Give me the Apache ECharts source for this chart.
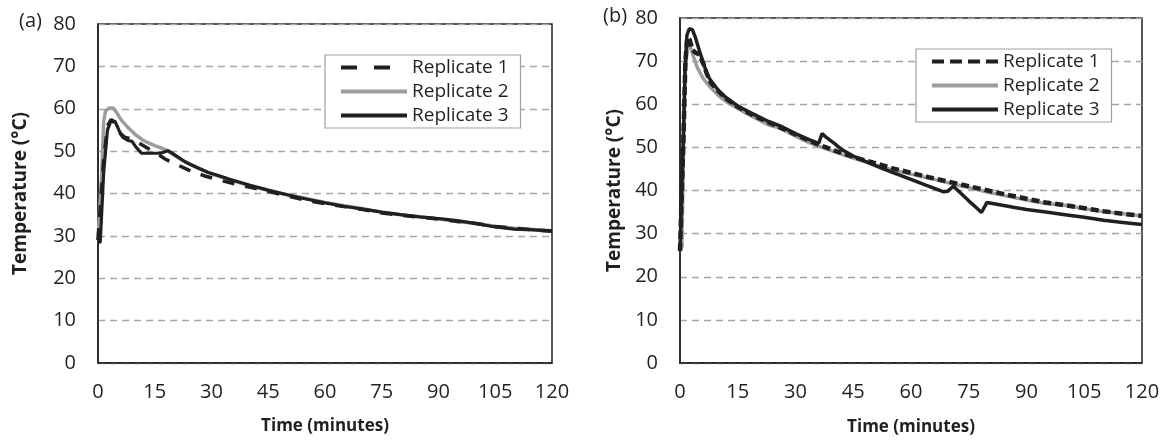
<!DOCTYPE html>
<html>
<head>
<meta charset="utf-8">
<script src="https://cdn.jsdelivr.net/npm/echarts@6/dist/echarts.min.js"></script>
<style>
html,body{margin:0;padding:0;background:#fff;}
#chart{width:1163px;height:441px;}
</style>
</head>
<body>
<div id="chart"></div>
<script>
// ---- Data ----
const seriesNames = ['Replicate 1', 'Replicate 2', 'Replicate 3'];
const xTicks = [0, 15, 30, 45, 60, 75, 90, 105, 120];
const yTicks = [0, 10, 20, 30, 40, 50, 60, 70, 80];

// Panel (a): [time (min), temperature (°C)]
const a_rep1 = [[0,29],[0.5,29],[1.5,48],[2.5,56],[3.5,57.5],[4.5,56.5],[5.5,54.5],[7,53.3],[9,52.8],[11,51.8],[13.5,50.5],[15,49.8],[18,48],[20,47.2],[24,45.5],[28,44.2],[32,43.2],[36,42.3],[40,41.5],[45,40.5],[50,39.4],[55,38.4],[60,37.6],[65,36.9],[70,36.2],[75,35.4],[80,34.9],[85,34.4],[90,34],[95,33.4],[100,32.9],[105,32.2],[110,31.8],[115,31.4],[120,31.1]];
const a_rep2 = [[0,29],[0.4,29],[1,45],[1.5,57],[2,59.5],[3,60.2],[4,60.2],[5,59],[6,57.5],[8,55.5],[10,53.8],[12,52.5],[15,51.3],[18,50.3],[21,48.5],[24,47],[27,45.8],[30,44.6],[35,43.2],[40,41.8],[45,40.7],[50,39.7],[55,38.8],[60,37.9],[65,37.1],[70,36.4],[75,35.6],[80,35],[85,34.5],[90,34],[95,33.4],[100,32.9],[105,32.3],[110,31.8],[115,31.5],[120,31.2]];
const a_rep3 = [[0,28.5],[0.6,28.5],[1.5,45],[2.5,55],[3.5,57.3],[4.5,57],[5.5,55],[6.5,53.3],[8,52.5],[9,52.3],[10,51],[11.5,49.5],[14,49.5],[16.5,49.5],[18.5,50.1],[20,49.3],[23,47.5],[26,46.2],[29,45],[32,44.2],[35,43.3],[40,42],[45,40.8],[50,39.7],[55,38.7],[60,37.8],[65,37],[70,36.3],[75,35.6],[80,35],[85,34.5],[90,34.1],[95,33.6],[100,32.9],[105,32.1],[110,31.6],[115,31.4],[120,31.2]];

// Panel (b)
const b_rep1 = [[0,26],[0.4,26],[0.9,52],[1.4,70],[1.9,75.5],[2.5,75],[3.3,72.5],[4,72],[5,71.5],[6,69.5],[7,67],[8,65],[10,63],[12,61.3],[15,59.4],[18,57.9],[20,57],[25,55],[30,53],[35,51],[40,49.3],[45,47.8],[50,46.5],[55,45.2],[60,44.1],[65,43],[70,42],[75,41],[80,40],[85,39],[90,38.1],[95,37.2],[100,36.6],[105,35.9],[110,35.2],[115,34.6],[120,34.1]];
const b_rep2 = [[0,26],[0.5,27],[0.9,50],[1.4,68],[2,74],[2.6,73.5],[3.5,71],[4.5,68.5],[6,66],[8,63.8],[10,62],[12,60.6],[15,59],[18,57.5],[20,56.6],[23,55.2],[26,54.5],[30,52.6],[33,51.3],[36,50.3],[40,49],[45,47.5],[50,46.1],[55,44.8],[60,43.8],[65,42.8],[70,41.7],[75,40.7],[80,39.6],[85,38.7],[90,37.8],[95,37],[100,36.6],[105,35.8],[110,35.1],[115,34.6],[120,34.1]];
const b_rep3 = [[0,26],[0.4,26],[0.8,50],[1.3,68],[1.8,76],[2.4,77.5],[3.2,77.3],[4,75.5],[5,72.5],[6,69.8],[7,67],[8,65.5],[10,63.2],[12,61.5],[15,59.6],[18,58.2],[20,57.3],[23,56],[26,55],[30,53.2],[33,52],[36,50.9],[36.9,53.2],[38,52.3],[40,51],[42,49.5],[45,48],[48,46.8],[52,45.3],[56,43.9],[60,42.6],[64,41.2],[68.5,39.7],[69.5,39.8],[71,41],[73,39.3],[75,37.6],[77,36],[78.3,34.9],[79.7,37.2],[83,36.7],[86.6,36.1],[90,35.6],[95,35],[100,34.4],[105,33.8],[110,33.1],[115,32.6],[120,32.1]];

// ---- Styles ----
const DARK = '#231f20';
const GRAY_LINE = '#9d9d9d';
const FONT = 'Open Sans';

const chart = echarts.init(document.getElementById('chart'), null, {renderer: 'canvas'});

function xAxisFor(gridIndex, nameGap) {
  return {
    type: 'value', gridIndex, min: 0, max: 120, interval: 15,
    name: 'Time (minutes)', nameLocation: 'middle', nameGap,
    nameTextStyle: {fontFamily: FONT, fontWeight: 'bold', fontSize: 17, color: DARK},
    axisLine: {show: true, onZero: false, lineStyle: {color: DARK, width: 1.5}},
    axisTick: {show: false},
    splitLine: {show: false},
    axisLabel: {fontFamily: FONT, fontSize: 20, color: DARK, margin: 19,
      formatter: v => xTicks.includes(v) ? String(v) : ''}
  };
}
function yAxisFor(gridIndex, nameGap) {
  return {
    type: 'value', gridIndex, min: 0, max: 80, interval: 10,
    name: 'Temperature (°C)', nameLocation: 'middle', nameGap, nameRotate: 90,
    nameTextStyle: {fontFamily: FONT, fontWeight: 'bold', fontSize: 19, color: DARK},
    axisLine: {show: true, lineStyle: {color: DARK, width: 1.5}},
    axisTick: {show: false},
    splitLine: {show: true, lineStyle: {color: '#a6a6a6', width: 1.3, type: [7, 5]}},
    axisLabel: {fontFamily: FONT, fontSize: 20, color: DARK, margin: 22,
      formatter: v => yTicks.includes(v) ? String(v) : ''}
  };
}

function line(name, data, idx, style) {
  return {
    name, type: 'line', data, xAxisIndex: idx, yAxisIndex: idx,
    symbol: 'none', showSymbol: false, smooth: false, animation: false,
    lineStyle: style, itemStyle: {color: style.color}, z: style.z || 2
  };
}

const legendBase = {
  orient: 'vertical', itemWidth: 66, itemHeight: 12, itemGap: 5,
  backgroundColor: '#fff', borderColor: '#a0a0a0', borderWidth: 1.2,
  itemStyle: {opacity: 0},
  textStyle: {fontFamily: FONT, fontSize: 19, color: DARK},
  formatter: n => n.replace(/ \([ab]\)$/, ''),
  selectedMode: false
};
function legendData(suffix, dash1) {
  return seriesNames.map((n, i) => ({
    name: n + suffix,
    lineStyle: {width: 4, type: i === 0 ? dash1 : 'solid'}
  }));
}

const option = {
  backgroundColor: '#fff',
  animation: false,
  grid: [
    {left: 98, top: 24, width: 454, height: 339, show: true, borderColor: DARK, borderWidth: 1.5, backgroundColor: 'transparent'},
    {left: 680, top: 18, width: 462, height: 349, show: true, borderColor: DARK, borderWidth: 1.5, backgroundColor: 'transparent'}
  ],
  xAxis: [xAxisFor(0, 55), xAxisFor(1, 56)],
  yAxis: [yAxisFor(0, 68), yAxisFor(1, 56)],
  legend: [
    Object.assign({}, legendBase, {left: 325, top: 55, padding: [3, 12, 3, 14],
      data: legendData(' (a)', [16, 17])}),
    Object.assign({}, legendBase, {left: 916, top: 49, padding: [3, 12, 3, 14],
      data: legendData(' (b)', [12, 6])})
  ],
  graphic: [
    {type: 'text', left: 19, top: 11, style: {text: '(a)', font: '20px "Open Sans"', fill: DARK}},
    {type: 'text', left: 603, top: 6, style: {text: '(b)', font: '20px "Open Sans"', fill: DARK}}
  ],
  series: [
    line('Replicate 1 (a)', a_rep1, 0, {color: DARK, width: 3.5, type: [12, 11], z: 3}),
    line('Replicate 2 (a)', a_rep2, 0, {color: GRAY_LINE, width: 3.5}),
    line('Replicate 3 (a)', a_rep3, 0, {color: DARK, width: 3.2, z: 4}),
    line('Replicate 1 (b)', b_rep1, 1, {color: DARK, width: 4.5, type: [8, 4], z: 3}),
    line('Replicate 2 (b)', b_rep2, 1, {color: GRAY_LINE, width: 3.5}),
    line('Replicate 3 (b)', b_rep3, 1, {color: DARK, width: 3.5, z: 4})
  ]
};
chart.setOption(option);
</script>
</body>
</html>
